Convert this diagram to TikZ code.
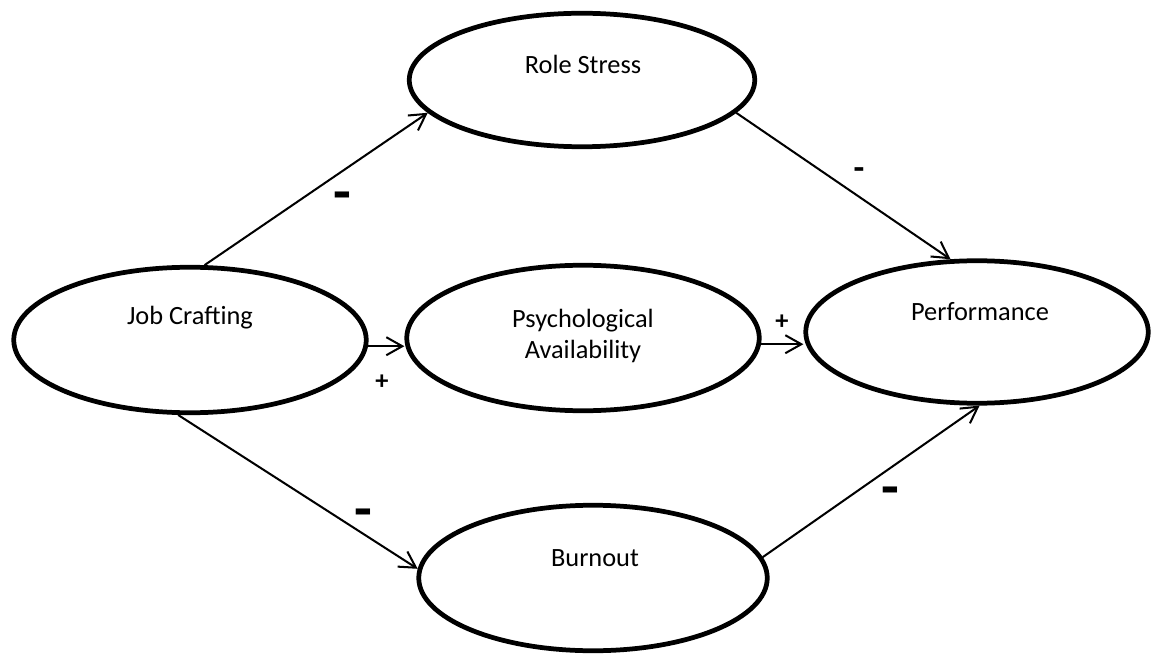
\documentclass[tikz,border=0pt]{standalone}
\usepackage{fontspec}
\setmainfont{Carlito}
\usetikzlibrary{shapes.geometric,arrows.meta}

\tikzset{
  var/.style={ellipse, draw, line width=2.7pt, inner sep=0pt},
  arr/.style={-{Straight Barb[length=3.2mm,width=3.6mm]}, line width=1.15pt},
  sgn/.style={inner sep=0pt, font=\fontsize{33}{33}\selectfont\bfseries},
  pls/.style={inner sep=0pt, font=\fontsize{15}{18}\selectfont\bfseries},
}

\begin{document}
\begin{tikzpicture}[x=0.2mm, y=-0.2mm, font=\fontsize{15}{18}\selectfont]

\def\ew{70.5mm}; % wide ellipse
\def\eh{29.1mm}; % tall ellipse

\useasboundingbox (0,0) rectangle (1155,655);

% variables
\node[var, minimum width=\ew, minimum height=\eh] (jc) at (190,340) {};
\node[var, minimum width=69.1mm, minimum height=26.7mm] (rs) at (582,80) {};
\node[var, minimum width=\ew, minimum height=\eh] (pa) at (583,338) {};
\node[var, minimum width=68.5mm, minimum height=28.5mm] (perf) at (977,332) {};
\node[var, minimum width=69.7mm, minimum height=\eh] (bo) at (593,578) {};

% names
\node (jct) at (190,318) {Job Crafting};
\node (rst) at (583,64) {Role Stress};
\node[align=center] (pat) at (583,336) {Psychological\\Availability};
\node (perft) at (980,312) {Performance};
\node (bot) at (595,558) {Burnout};

% paths
\draw[arr] (jc.79) -- (rs.192);
\draw[arr] (jc.-2) -- (jc.-2 -| pa.west);
\draw[arr] (jc.261) -- (bo.177);
\draw[arr] (rs.348) -- (perf.110);
\draw[arr] (pa.-2) -- (pa.-2 -| perf.west);
\draw[arr] (bo.7) -- (perf.-88);

% signs
\node[sgn] (s1) at (342,202) {-};
\node[pls] (s2) at (382,382) {+};
\node[pls] (s3) at (782,322) {+};
\node[font=\fontsize{20}{20}\selectfont\bfseries] (s4) at (859,174) {-};
\node[sgn] (s5) at (363,519) {-};
\node[sgn] (s6) at (890,497) {-};

\end{tikzpicture}
\end{document}
